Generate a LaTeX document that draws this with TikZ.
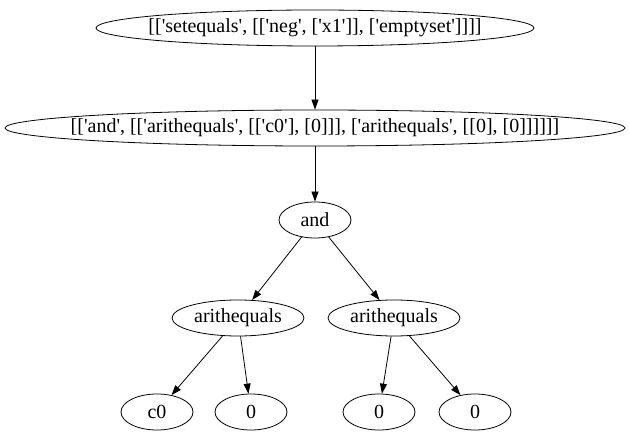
\documentclass[tikz,border=0pt]{standalone}
\usepackage{fontspec}
\setmainfont{Liberation Serif}
\usetikzlibrary{shapes.geometric,arrows.meta}
\newcommand{\qq}{\textquotesingle}
\newcommand{\ctext}[1]{\makebox[0pt]{#1}}
\begin{document}
\begin{tikzpicture}[x=1pt,y=-1pt,
  nd/.style={draw,ellipse,inner sep=0pt,minimum height=36pt,font=\fontsize{20}{22}\selectfont,line width=0.8pt},
  edge/.style={-{Triangle[length=10pt,width=7pt]},line width=0.8pt}]
\useasboundingbox (0,0) rectangle (629,443);
\node[nd,minimum width=438pt] (top) at (315,28) {\ctext{[[\qq setequals\qq, [[\qq neg\qq, [\qq x1\qq]], [\qq emptyset\qq]]]]}};
\node[nd,minimum width=620pt] (mid) at (315,128) {\ctext{[[\qq and\qq, [[\qq arithequals\qq, [[\qq c0\qq], [0]]], [\qq arithequals\qq, [[0], [0]]]]]]}};
\node[nd,minimum width=72pt] (and) at (315,220) {\ctext{and}};
\node[nd,minimum width=132pt] (al) at (238,318) {\ctext{arithequals}};
\node[nd,minimum width=132pt] (ar) at (394,318) {\ctext{arithequals}};
\node[nd,minimum width=72pt] (c0) at (157,412) {\ctext{c0}};
\node[nd,minimum width=72pt] (z1) at (251,412) {\ctext{0}};
\node[nd,minimum width=72pt] (z2) at (379,412) {\ctext{0}};
\node[nd,minimum width=72pt] (z3) at (475,412) {\ctext{0}};
\draw[edge] (top) -- (mid);
\draw[edge] (mid) -- (and);
\draw[edge] (and) -- (al);
\draw[edge] (and) -- (ar);
\draw[edge] (al) -- (c0);
\draw[edge] (al) -- (z1);
\draw[edge] (ar) -- (z2);
\draw[edge] (ar) -- (z3);
\end{tikzpicture}
\end{document}
